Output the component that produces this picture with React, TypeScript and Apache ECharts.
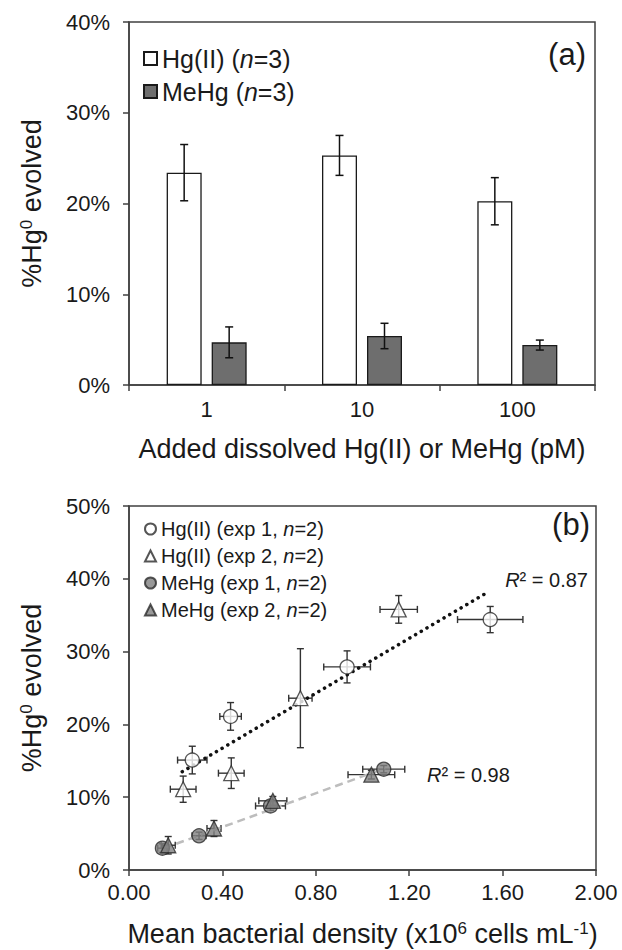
import React, { useEffect, useRef } from "react";
import * as echarts from "echarts";

// ---------- Panel (a) data ----------
const barCategories = ["1", "10", "100"];
const hgIIMeans = [23.4, 25.3, 20.25];
const hgIIErrors = [3.1, 2.2, 2.6];
const meHgMeans = [4.7, 5.4, 4.4];
const meHgErrors = [1.7, 1.4, 0.55];
const barYMin = 0;
const barYMax = 40;
const barYStep = 10;

// ---------- Panel (b) data: [x, y, xErr, yErr] ----------
const hgExp1 = [
  [0.271, 15.1, 0.063, 1.9],
  [0.435, 21.1, 0.046, 1.9],
  [0.934, 27.9, 0.1, 2.2],
  [1.547, 34.4, 0.14, 1.8],
];
const hgExp2 = [
  [0.232, 11.1, 0.055, 1.8],
  [0.438, 13.3, 0.055, 2.1],
  [0.734, 23.6, 0.05, 6.8],
  [1.155, 35.8, 0.08, 1.9],
];
const meHgExp1 = [
  [0.143, 3.0, 0.02, 0.6],
  [0.3, 4.7, 0.03, 0.5],
  [0.606, 8.8, 0.064, 0.6],
  [1.091, 13.85, 0.09, 0.5],
];
const meHgExp2 = [
  [0.168, 3.4, 0.03, 1.2],
  [0.364, 5.7, 0.03, 1.1],
  [0.616, 9.5, 0.06, 0.6],
  [1.038, 13.1, 0.1, 0.6],
];
const hgFitLine = [
  [0.228, 13.5],
  [1.544, 38.3],
];
const meHgFitLine = [
  [0.15, 3.0],
  [1.098, 14.0],
];
const hgR2 = "0.87";
const meHgR2 = "0.98";
const scatXMin = 0;
const scatXMax = 2;
const scatXStep = 0.4;
const scatYMin = 0;
const scatYMax = 50;
const scatYStep = 10;

const FF = "'Liberation Sans', Arial, Helvetica, sans-serif";
const TXT = "#1a1a1a";
const AX = "#404040";
const BAR_W = 35;
const BAR_GAP = 10;

function barErr(offset: number) {
  return (params: any, api: any) => {
    const i = api.value(0);
    const v = api.value(1);
    const e = api.value(2);
    const top = api.coord([i, v + e]);
    const bot = api.coord([i, v - e]);
    const x = top[0] + offset;
    const cap = 4;
    const st = { stroke: "#111", lineWidth: 1.5 };
    return {
      type: "group",
      children: [
        { type: "line", shape: { x1: x, y1: top[1], x2: x, y2: bot[1] }, style: st },
        { type: "line", shape: { x1: x - cap, y1: top[1], x2: x + cap, y2: top[1] }, style: st },
        { type: "line", shape: { x1: x - cap, y1: bot[1], x2: x + cap, y2: bot[1] }, style: st },
      ],
    };
  };
}

function xyErr(params: any, api: any) {
  const x = api.value(0);
  const y = api.value(1);
  const ex = api.value(2);
  const ey = api.value(3);
  const l = api.coord([x - ex, y]);
  const r = api.coord([x + ex, y]);
  const t = api.coord([x, y + ey]);
  const b = api.coord([x, y - ey]);
  const cap = 3.5;
  const st = { stroke: "#333", lineWidth: 1.4 };
  return {
    type: "group",
    children: [
      { type: "line", shape: { x1: l[0], y1: l[1], x2: r[0], y2: r[1] }, style: st },
      { type: "line", shape: { x1: l[0], y1: l[1] - cap, x2: l[0], y2: l[1] + cap }, style: st },
      { type: "line", shape: { x1: r[0], y1: r[1] - cap, x2: r[0], y2: r[1] + cap }, style: st },
      { type: "line", shape: { x1: t[0], y1: t[1], x2: b[0], y2: b[1] }, style: st },
      { type: "line", shape: { x1: t[0] - cap, y1: t[1], x2: t[0] + cap, y2: t[1] }, style: st },
      { type: "line", shape: { x1: b[0] - cap, y1: b[1], x2: b[0] + cap, y2: b[1] }, style: st },
    ],
  };
}

const axisCommon = {
  axisLine: { show: true, lineStyle: { color: AX, width: 1.5 } },
  axisTick: { show: true, inside: false, length: 6, lineStyle: { color: AX, width: 1.5 } },
  splitLine: { show: false },
};

const nameStyle = {
  fontSize: 27,
  fontFamily: FF,
  color: TXT,
  rich: {
    sup: { fontSize: 17, fontFamily: FF, color: TXT, verticalAlign: "top" },
  },
};

export default function App() {
  const ref = useRef<HTMLDivElement>(null);
  useEffect(() => {
    if (!ref.current) return;
    const chart = echarts.init(ref.current, undefined, { renderer: "svg" });
    const labelStyle = { fontSize: 22, fontFamily: FF, color: TXT };
    const errOff = (BAR_W + BAR_GAP) / 2;
    const openStyle = { color: "#ffffff", borderColor: "#2a2a2a", borderWidth: 1.3 };
    const greyStyle = { color: "#7f7f7f", borderColor: "#2a2a2a", borderWidth: 1.3 };
    const italicRich = (size: number) => ({
      i: { fontStyle: "italic", fontSize: size, fontFamily: FF, color: TXT },
      t: { fontSize: size, fontFamily: FF, color: TXT },
    });
    const option: any = {
      animation: false,
      backgroundColor: "#ffffff",
      grid: [
        { left: 129, top: 22, width: 466, height: 363, show: true, borderColor: AX, borderWidth: 1.5 },
        { left: 129, top: 506, width: 467, height: 364, show: true, borderColor: AX, borderWidth: 1.5 },
      ],
      xAxis: [
        {
          type: "category",
          gridIndex: 0,
          data: barCategories,
          ...axisCommon,
          axisLabel: { ...labelStyle, margin: 13 },
          name: "Added dissolved Hg(II) or MeHg (pM)",
          nameLocation: "middle",
          nameGap: 50,
          nameTextStyle: nameStyle,
        },
        {
          type: "value",
          gridIndex: 1,
          min: scatXMin,
          max: scatXMax,
          interval: scatXStep,
          ...axisCommon,
          axisLabel: { ...labelStyle, margin: 11, formatter: (v: number) => v.toFixed(2) },
          name: "Mean bacterial density (x10{sup|6} cells mL{sup|-1})",
          nameLocation: "middle",
          nameGap: 50,
          nameTextStyle: nameStyle,
        },
      ],
      yAxis: [
        {
          type: "value",
          gridIndex: 0,
          min: barYMin,
          max: barYMax,
          interval: barYStep,
          ...axisCommon,
          axisLabel: { ...labelStyle, margin: 19, formatter: "{value}%" },
          name: "%Hg{sup|0} evolved",
          nameLocation: "middle",
          nameRotate: 90,
          nameGap: 84,
          nameTextStyle: nameStyle,
        },
        {
          type: "value",
          gridIndex: 1,
          min: scatYMin,
          max: scatYMax,
          interval: scatYStep,
          ...axisCommon,
          axisLabel: { ...labelStyle, margin: 19, formatter: "{value}%" },
          name: "%Hg{sup|0} evolved",
          nameLocation: "middle",
          nameRotate: 90,
          nameGap: 84,
          nameTextStyle: nameStyle,
        },
      ],
      legend: [
        {
          data: ["Hg(II) (n=3)", "MeHg (n=3)"],
          orient: "vertical",
          left: 138,
          top: 41,
          itemWidth: 13,
          itemHeight: 13,
          itemGap: 8,
          icon: "rect",
          selectedMode: false,
          formatter: (name: string) => "{t|" + name.replace("(n=", "(}{i|n}{t|=") + "}",
          textStyle: { fontSize: 25, fontFamily: FF, color: TXT, rich: italicRich(25) },
        },
        {
          data: ["Hg(II) (exp 1, n=2)", "Hg(II) (exp 2, n=2)", "MeHg (exp 1, n=2)", "MeHg (exp 2, n=2)"],
          orient: "vertical",
          left: 139,
          top: 514,
          itemWidth: 11,
          itemHeight: 11,
          itemGap: 7,
          selectedMode: false,
          formatter: (name: string) => "{t|" + name.replace(", n=", ", }{i|n}{t|=") + "}",
          textStyle: { fontSize: 20, fontFamily: FF, color: TXT, rich: italicRich(20) },
        },
      ],
      graphic: [
        {
          type: "text",
          x: 586,
          y: 54,
          style: { text: "(a)", fontSize: 31, fontFamily: FF, fill: TXT, align: "right", verticalAlign: "middle" },
        },
        {
          type: "text",
          x: 590,
          y: 524,
          style: { text: "(b)", fontSize: 31, fontFamily: FF, fill: TXT, align: "right", verticalAlign: "middle" },
        },
        {
          type: "text",
          x: 588,
          y: 580,
          style: {
            text: "{i|R}{t|² = " + hgR2 + "}",
            fontSize: 20,
            fontFamily: FF,
            fill: TXT,
            align: "right",
            verticalAlign: "middle",
            rich: {
              i: { fontStyle: "italic", fontSize: 20, fontFamily: FF, fill: TXT },
              t: { fontSize: 20, fontFamily: FF, fill: TXT },
            },
          },
        },
        {
          type: "text",
          x: 427,
          y: 775,
          style: {
            text: "{i|R}{t|² = " + meHgR2 + "}",
            fontSize: 20,
            fontFamily: FF,
            fill: TXT,
            align: "left",
            verticalAlign: "middle",
            rich: {
              i: { fontStyle: "italic", fontSize: 20, fontFamily: FF, fill: TXT },
              t: { fontSize: 20, fontFamily: FF, fill: TXT },
            },
          },
        },
      ],
      series: [
        {
          name: "Hg(II) (n=3)",
          type: "bar",
          xAxisIndex: 0,
          yAxisIndex: 0,
          data: hgIIMeans,
          barWidth: BAR_W,
          barGap: (BAR_GAP / BAR_W) * 100 + "%",
          itemStyle: { color: "#ffffff", borderColor: "#1a1a1a", borderWidth: 1.3 },
        },
        {
          name: "MeHg (n=3)",
          type: "bar",
          xAxisIndex: 0,
          yAxisIndex: 0,
          data: meHgMeans,
          barWidth: BAR_W,
          barGap: (BAR_GAP / BAR_W) * 100 + "%",
          itemStyle: { color: "#6e6e6e", borderColor: "#1a1a1a", borderWidth: 1.3 },
        },
        {
          type: "custom",
          xAxisIndex: 0,
          yAxisIndex: 0,
          renderItem: barErr(-errOff),
          encode: { x: 0, y: 1 },
          data: hgIIMeans.map((v, i) => [i, v, hgIIErrors[i]]),
          z: 5,
        },
        {
          type: "custom",
          xAxisIndex: 0,
          yAxisIndex: 0,
          renderItem: barErr(errOff),
          encode: { x: 0, y: 1 },
          data: meHgMeans.map((v, i) => [i, v, meHgErrors[i]]),
          z: 5,
        },
        {
          type: "line",
          xAxisIndex: 1,
          yAxisIndex: 1,
          data: hgFitLine,
          symbol: "none",
          lineStyle: { color: "#111", width: 3.5, type: [0.1, 6.5], cap: "round" },
          z: 3,
        },
        {
          type: "line",
          xAxisIndex: 1,
          yAxisIndex: 1,
          data: meHgFitLine,
          symbol: "none",
          lineStyle: { color: "#bdbdbd", width: 2.5, type: [8, 5] },
          z: 3,
        },
        ...[hgExp1, hgExp2, meHgExp1, meHgExp2].map((d) => ({
          type: "custom",
          xAxisIndex: 1,
          yAxisIndex: 1,
          renderItem: xyErr,
          encode: { x: 0, y: 1 },
          data: d,
          z: 2,
        })),
        {
          name: "Hg(II) (exp 1, n=2)",
          type: "scatter",
          xAxisIndex: 1,
          yAxisIndex: 1,
          symbol: "circle",
          symbolSize: 14,
          data: hgExp1.map((p) => [p[0], p[1]]),
          itemStyle: openStyle,
          z: 4,
        },
        {
          name: "Hg(II) (exp 2, n=2)",
          type: "scatter",
          xAxisIndex: 1,
          yAxisIndex: 1,
          symbol: "triangle",
          symbolSize: 15,
          data: hgExp2.map((p) => [p[0], p[1]]),
          itemStyle: openStyle,
          z: 4,
        },
        {
          name: "MeHg (exp 1, n=2)",
          type: "scatter",
          xAxisIndex: 1,
          yAxisIndex: 1,
          symbol: "circle",
          symbolSize: 14,
          data: meHgExp1.map((p) => [p[0], p[1]]),
          itemStyle: greyStyle,
          z: 4,
        },
        {
          name: "MeHg (exp 2, n=2)",
          type: "scatter",
          xAxisIndex: 1,
          yAxisIndex: 1,
          symbol: "triangle",
          symbolSize: 15,
          data: meHgExp2.map((p) => [p[0], p[1]]),
          itemStyle: greyStyle,
          z: 4,
        },
      ],
    };
    chart.setOption(option);
    return () => chart.dispose();
  }, []);
  return (
    <div
      ref={ref}
      style={{ position: "absolute", left: 0, top: 0, width: 622, height: 950, background: "#fff" }}
    />
  );
}
